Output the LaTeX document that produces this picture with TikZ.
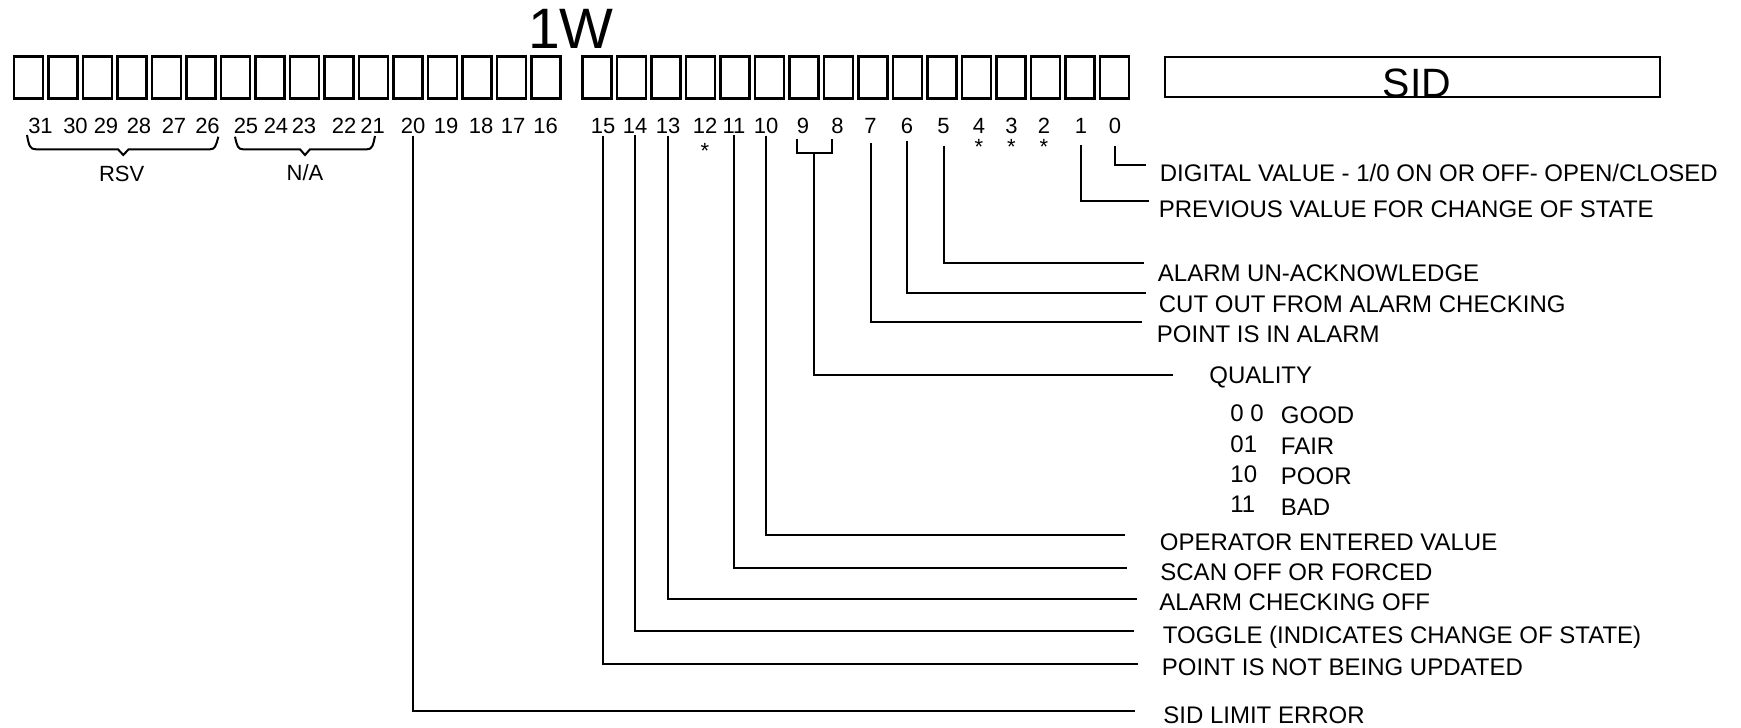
\documentclass[tikz,border=0pt]{standalone}
\usepackage{fontspec}
\setmainfont{Liberation Sans}
\usetikzlibrary{calc}

\begin{document}
\begin{tikzpicture}[
    x=0.5pt, y=-0.5pt,
    cell/.style={draw, line width=1.25pt, minimum width=14.6pt, minimum height=21pt, inner sep=0pt},
    bitno/.style={anchor=base, inner sep=0pt, font=\fontsize{11}{13}\selectfont},
    group/.style={inner sep=0pt, font=\fontsize{11}{13}\selectfont},
    desc/.style={anchor=base west, inner sep=0pt, font=\fontsize{12}{14}\selectfont},
    lead/.style={line width=1pt}
]
\useasboundingbox (0,0) rectangle (1741,728);

% register cells, bits 31..16 and 15..0
\foreach \i in {0,...,15} {
  \pgfmathtruncatemacro{\hi}{31-\i}
  \pgfmathtruncatemacro{\lo}{15-\i}
  \node[cell] (c\hi) at (28.5+34.5*\i,77.25) {};
  \node[cell] (c\lo) at (597+34.5*\i,77.25) {};
}
\node[cell, minimum width=247.3pt, minimum height=20pt] (sid) at (1412.5,77.2) {};
\node[anchor=base, inner sep=0pt, font=\fontsize{20.5}{24}\selectfont] (sidname) at (1417,97.5) {SID};
\node[anchor=base, inner sep=0pt, font=\fontsize{28.5}{32}\selectfont] (word) at (571,48) {1W};

% bit numbers
\foreach \b/\x in {31/40.5,30/75.5,29/106,28/139,27/174,26/207.5,25/246,24/276,23/304,22/344,21/372.5,20/413,19/446,18/481,17/513,16/545.5,15/603,14/635,13/668,12/705,11/734,10/766,9/803,8/837.5,7/870.5,6/907,5/943.5,4/979,3/1011.5,2/1044,1/1081,0/1115}
  \node[bitno] (b\b) at (\x,133.5) {\b};
\node[bitno] (s12) at (705,158) {*};
\node[bitno] (s4) at (979,154) {*};
\node[bitno] (s3) at (1011.5,154) {*};
\node[bitno] (s2) at (1044,154) {*};

% groups
\draw[lead] (27,135) .. controls (29,146) and (30,149.3) .. (36,149.3) -- (118,149.3) -- (123.3,155) -- (128.6,149.3) -- (210,149.3) .. controls (215,149.3) and (216,146) .. (218.3,136.7);
\node[group] (rsv) at (121.7,174) {RSV};
\draw[lead] (235,136.7) .. controls (237,146) and (238,149.3) .. (243,149.3) -- (300,149.3) -- (305,155) -- (310,149.3) -- (367,149.3) .. controls (372,149.3) and (373,146) .. (375,136);
\node[group] (na) at (305,173) {N/A};

% descriptions
\node[desc] (d0) at (1159.5,181) {DIGITAL VALUE - 1/0 ON OR OFF- OPEN/CLOSED};
\node[desc] (d1) at (1158.5,217.6) {PREVIOUS VALUE FOR CHANGE OF STATE};
\node[desc] (d5) at (1157.5,281.6) {ALARM UN-ACKNOWLEDGE};
\node[desc] (d6) at (1158.5,312.6) {CUT OUT FROM ALARM CHECKING};
\node[desc] (d7) at (1156.5,342.6) {POINT IS IN ALARM};
\node[desc] (d9) at (1209,383.6) {QUALITY};
\node[desc] (q00) at (1230,421.3) {0 0};
\node[desc] (q01) at (1230,452) {01};
\node[desc] (q10) at (1230,482) {10};
\node[desc] (q11) at (1230,512.6) {11};
\node[desc] (good) at (1280.5,423) {GOOD};
\node[desc] (fair) at (1280.5,454.6) {FAIR};
\node[desc] (poor) at (1280.5,484.3) {POOR};
\node[desc] (bad) at (1280.5,515.3) {BAD};
\node[desc] (d10) at (1159.5,550.3) {OPERATOR ENTERED VALUE};
\node[desc] (d11) at (1160,580.3) {SCAN OFF OR FORCED};
\node[desc] (d13) at (1159,610.3) {ALARM CHECKING OFF};
\node[desc] (d14) at (1162.5,643) {TOGGLE (INDICATES CHANGE OF STATE)};
\node[desc] (d15) at (1161.5,675.3) {POINT IS NOT BEING UPDATED};
\node[desc] (d20) at (1163,723.6) {SID LIMIT ERROR};

% leaders
\foreach \b/\d/\ex/\ey in {0/11.5/1146/165, 1/11.5/1149/201, 5/11.5/1144/263, 6/6.5/1146/293, 7/9.5/1142/322, 10/1.5/1125/535, 11/1.5/1127/568, 13/1.5/1137/599, 14/1.5/1134/631, 15/1.5/1138/663.5, 20/1.5/1135/711} {
  \coordinate (e\b) at (\ex,\ey);
  \draw[lead] ([yshift=-\d*0.5pt]b\b.south) |- (e\b);
}
\draw[lead] ([xshift=-3pt,yshift=-2.25pt]b9.south) -- ++(0,14) coordinate (qa) -| ([xshift=-3pt,yshift=-2.25pt]b8.south);
\coordinate (qm) at ($(qa)+(17.25,0)$);
\coordinate (e9) at (1173,375);
\draw[lead] (qm) |- (e9);
\end{tikzpicture}
\end{document}
